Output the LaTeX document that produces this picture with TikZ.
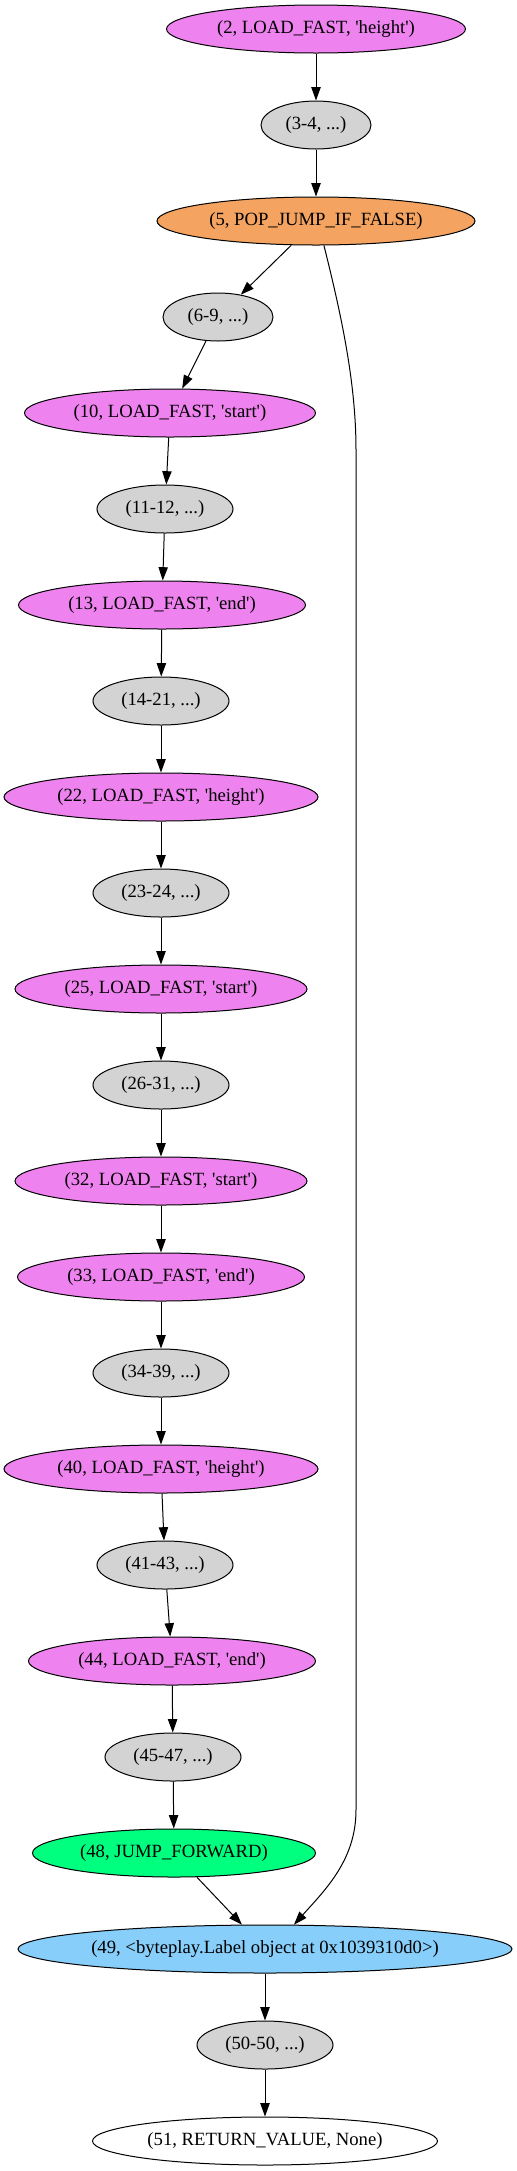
\documentclass[tikz,border=0pt]{standalone}
\usepackage{fontspec}
\setmainfont{Liberation Serif}
\usetikzlibrary{shapes.geometric,arrows.meta}
\definecolor{cviolet}{HTML}{EE82EE}
\definecolor{cgray}{HTML}{D3D3D3}
\definecolor{csandy}{HTML}{F4A460}
\definecolor{cgreen}{HTML}{00FF7F}
\definecolor{csky}{HTML}{87CEFA}
\newcommand\lbl[1]{\makebox[0pt]{#1}}
\newcommand\sq{\textquotesingle}
\begin{document}
\begin{tikzpicture}[x=0.75pt,y=-0.75pt,
  gnode/.style={ellipse,draw=black,line width=0.75pt,inner sep=0pt,minimum height=36pt,font=\fontsize{14}{16}\selectfont},
  ewidth/.style={minimum width=#1*0.75pt},
  pnode/.style={gnode,fill=cviolet},
  rnode/.style={gnode,fill=cgray,ewidth=136},
  conn/.style={-{Triangle[length=10pt,width=7pt]},line width=0.75pt}]
\useasboundingbox (0,0) rectangle (517,2171);
\node[pnode,ewidth=299] (n2) at (316,29) {\lbl{(2, LOAD\_FAST, \sq height\sq)}};
\node[rnode,ewidth=110] (n34) at (316,125) {\lbl{(3-4, ...)}};
\node[gnode,fill=csandy,ewidth=318] (n5) at (316,221) {\lbl{(5, POP\_JUMP\_IF\_FALSE)}};
\node[rnode,ewidth=110] (n69) at (218,317) {\lbl{(6-9, ...)}};
\node[pnode,ewidth=291] (n10) at (170,413) {\lbl{(10, LOAD\_FAST, \sq start\sq)}};
\node[rnode] (n1112) at (165,509) {\lbl{(11-12, ...)}};
\node[pnode,ewidth=287] (n13) at (162,605) {\lbl{(13, LOAD\_FAST, \sq end\sq)}};
\node[rnode] (n1421) at (161,701) {\lbl{(14-21, ...)}};
\node[pnode,ewidth=314] (n22) at (161,797) {\lbl{(22, LOAD\_FAST, \sq height\sq)}};
\node[rnode] (n2324) at (161,893) {\lbl{(23-24, ...)}};
\node[pnode,ewidth=292] (n25) at (161,989) {\lbl{(25, LOAD\_FAST, \sq start\sq)}};
\node[rnode] (n2631) at (161,1085) {\lbl{(26-31, ...)}};
\node[pnode,ewidth=292] (n32) at (161,1181) {\lbl{(32, LOAD\_FAST, \sq start\sq)}};
\node[pnode,ewidth=287] (n33) at (161,1277) {\lbl{(33, LOAD\_FAST, \sq end\sq)}};
\node[rnode] (n3439) at (161,1373) {\lbl{(34-39, ...)}};
\node[pnode,ewidth=314] (n40) at (161,1469) {\lbl{(40, LOAD\_FAST, \sq height\sq)}};
\node[rnode] (n4143) at (165,1565) {\lbl{(41-43, ...)}};
\node[pnode,ewidth=287] (n44) at (172,1661) {\lbl{(44, LOAD\_FAST, \sq end\sq)}};
\node[rnode] (n4547) at (173,1757) {\lbl{(45-47, ...)}};
\node[gnode,fill=cgreen,ewidth=283] (n48) at (174,1853) {\lbl{(48, JUMP\_FORWARD)}};
\node[gnode,fill=csky,ewidth=494] (n49) at (265,1949) {\lbl{(49, <byteplay.Label object at 0x1039310d0>)}};
\node[rnode] (n5050) at (265,2045) {\lbl{(50-50, ...)}};
\node[gnode,fill=white,ewidth=345] (n51) at (265,2141) {\lbl{(51, RETURN\_VALUE, None)}};
\draw[conn] (n2) -- (n34);
\draw[conn] (n34) -- (n5);
\draw[conn] (n5) -- (n69);
\draw[conn] (n69) -- (n10);
\draw[conn] (n10) -- (n1112);
\draw[conn] (n1112) -- (n13);
\draw[conn] (n13) -- (n1421);
\draw[conn] (n1421) -- (n22);
\draw[conn] (n22) -- (n2324);
\draw[conn] (n2324) -- (n25);
\draw[conn] (n25) -- (n2631);
\draw[conn] (n2631) -- (n32);
\draw[conn] (n32) -- (n33);
\draw[conn] (n33) -- (n3439);
\draw[conn] (n3439) -- (n40);
\draw[conn] (n40) -- (n4143);
\draw[conn] (n4143) -- (n44);
\draw[conn] (n44) -- (n4547);
\draw[conn] (n4547) -- (n48);
\draw[conn] (n48) -- (n49);
\draw[conn] (n49) -- (n5050);
\draw[conn] (n5050) -- (n51);
\draw[conn] (n5.-72) .. controls (340,310) and (356,380) .. (356,450)
  -- (356,1810) .. controls (356,1860) and (325,1890) .. (n49.40);
\end{tikzpicture}
\end{document}
